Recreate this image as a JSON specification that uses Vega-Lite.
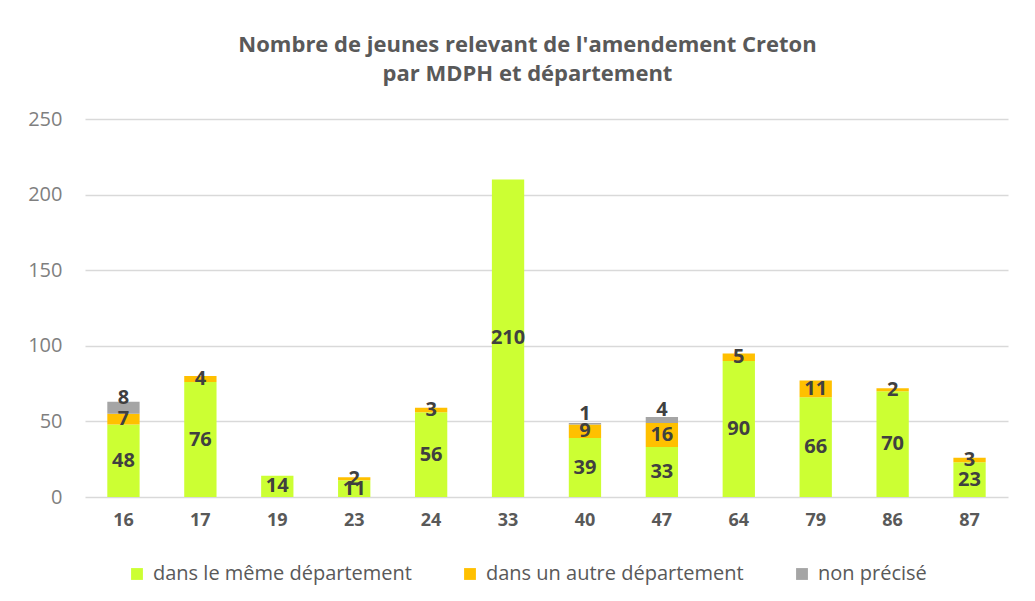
{
  "$schema": "https://vega.github.io/schema/vega-lite/v6.json",
  "width": 923,
  "height": 393,
  "autosize": {"type": "none"},
  "padding": {"left": 85, "top": 104, "right": 27, "bottom": 104},
  "background": "white",
  "title": {
    "text": ["Nombre de jeunes relevant de l'amendement Creton", "par MDPH et département"],
    "anchor": "middle",
    "dx": -19,
    "offset": 18,
    "font": "Open Sans",
    "fontSize": 22,
    "fontWeight": "bold",
    "color": "#595959",
    "lineHeight": 29
  },
  "config": {
    "view": {"stroke": null},
    "font": "Open Sans"
  },
  "data": {
    "values": [
      {"dep": "16", "serie": "dans le même département", "ord": 1, "value": 48},
      {"dep": "16", "serie": "dans un autre département", "ord": 2, "value": 7},
      {"dep": "16", "serie": "non précisé", "ord": 3, "value": 8},
      {"dep": "17", "serie": "dans le même département", "ord": 1, "value": 76},
      {"dep": "17", "serie": "dans un autre département", "ord": 2, "value": 4},
      {"dep": "19", "serie": "dans le même département", "ord": 1, "value": 14},
      {"dep": "23", "serie": "dans le même département", "ord": 1, "value": 11},
      {"dep": "23", "serie": "dans un autre département", "ord": 2, "value": 2},
      {"dep": "24", "serie": "dans le même département", "ord": 1, "value": 56},
      {"dep": "24", "serie": "dans un autre département", "ord": 2, "value": 3},
      {"dep": "33", "serie": "dans le même département", "ord": 1, "value": 210},
      {"dep": "40", "serie": "dans le même département", "ord": 1, "value": 39},
      {"dep": "40", "serie": "dans un autre département", "ord": 2, "value": 9},
      {"dep": "40", "serie": "non précisé", "ord": 3, "value": 1},
      {"dep": "47", "serie": "dans le même département", "ord": 1, "value": 33},
      {"dep": "47", "serie": "dans un autre département", "ord": 2, "value": 16},
      {"dep": "47", "serie": "non précisé", "ord": 3, "value": 4},
      {"dep": "64", "serie": "dans le même département", "ord": 1, "value": 90},
      {"dep": "64", "serie": "dans un autre département", "ord": 2, "value": 5},
      {"dep": "79", "serie": "dans le même département", "ord": 1, "value": 66},
      {"dep": "79", "serie": "dans un autre département", "ord": 2, "value": 11},
      {"dep": "86", "serie": "dans le même département", "ord": 1, "value": 70},
      {"dep": "86", "serie": "dans un autre département", "ord": 2, "value": 2},
      {"dep": "87", "serie": "dans le même département", "ord": 1, "value": 23},
      {"dep": "87", "serie": "dans un autre département", "ord": 2, "value": 3}
    ]
  },
  "transform": [
    {"stack": "value", "groupby": ["dep"], "sort": [{"field": "ord", "order": "ascending"}], "as": ["y0", "y1"]},
    {"calculate": "(datum.y0 + datum.y1) / 2", "as": "ymid"}
  ],
  "encoding": {
    "x": {
      "field": "dep",
      "type": "nominal",
      "sort": null,
      "title": null,
      "scale": {"paddingInner": 0.58, "paddingOuter": 0.29},
      "axis": {
        "labelAngle": 0,
        "domain": false,
        "ticks": false,
        "labelFont": "Open Sans",
        "labelFontSize": 18,
        "labelFontWeight": "bold",
        "labelColor": "#595959",
        "labelPadding": 14
      }
    }
  },
  "layer": [
    {
      "mark": {"type": "bar"},
      "encoding": {
        "y": {
          "field": "y0",
          "type": "quantitative",
          "scale": {"domain": [0, 250]},
          "title": null,
          "axis": {
            "values": [0, 50, 100, 150, 200, 250],
            "domain": false,
            "ticks": false,
            "gridColor": "#D9D9D9",
            "gridWidth": 1.5,
            "labelFont": "Open Sans",
            "labelFontSize": 20,
            "labelColor": "#7F7F7F",
            "labelPadding": 23
          }
        },
        "y2": {"field": "y1"},
        "color": {
          "field": "serie",
          "type": "nominal",
          "scale": {
            "domain": ["dans le même département", "dans un autre département", "non précisé"],
            "range": ["#CCFF33", "#FFC000", "#A5A5A5"]
          },
          "legend": {
            "title": null,
            "orient": "none",
            "legendX": 42,
            "legendY": 460,
            "direction": "horizontal",
            "symbolType": "square",
            "symbolSize": 140,
            "symbolStrokeWidth": 0,
            "labelFont": "Open Sans",
            "labelFontSize": 20,
            "labelColor": "#595959",
            "labelLimit": 400,
            "columnPadding": 48,
            "labelOffset": 6
          }
        }
      }
    },
    {
      "transform": [{"filter": "datum.serie !== 'non précisé'"}],
      "mark": {"type": "text", "fontSize": 20, "fontWeight": "bold", "color": "#404040", "baseline": "middle", "font": "Open Sans"},
      "encoding": {
        "y": {"field": "ymid", "type": "quantitative"},
        "text": {"field": "value", "type": "quantitative"}
      }
    },
    {
      "transform": [{"filter": "datum.serie === 'non précisé'"}],
      "mark": {"type": "text", "fontSize": 20, "fontWeight": "bold", "color": "#404040", "baseline": "middle", "font": "Open Sans", "dy": -10},
      "encoding": {
        "y": {"field": "ymid", "type": "quantitative"},
        "text": {"field": "value", "type": "quantitative"}
      }
    }
  ]
}
